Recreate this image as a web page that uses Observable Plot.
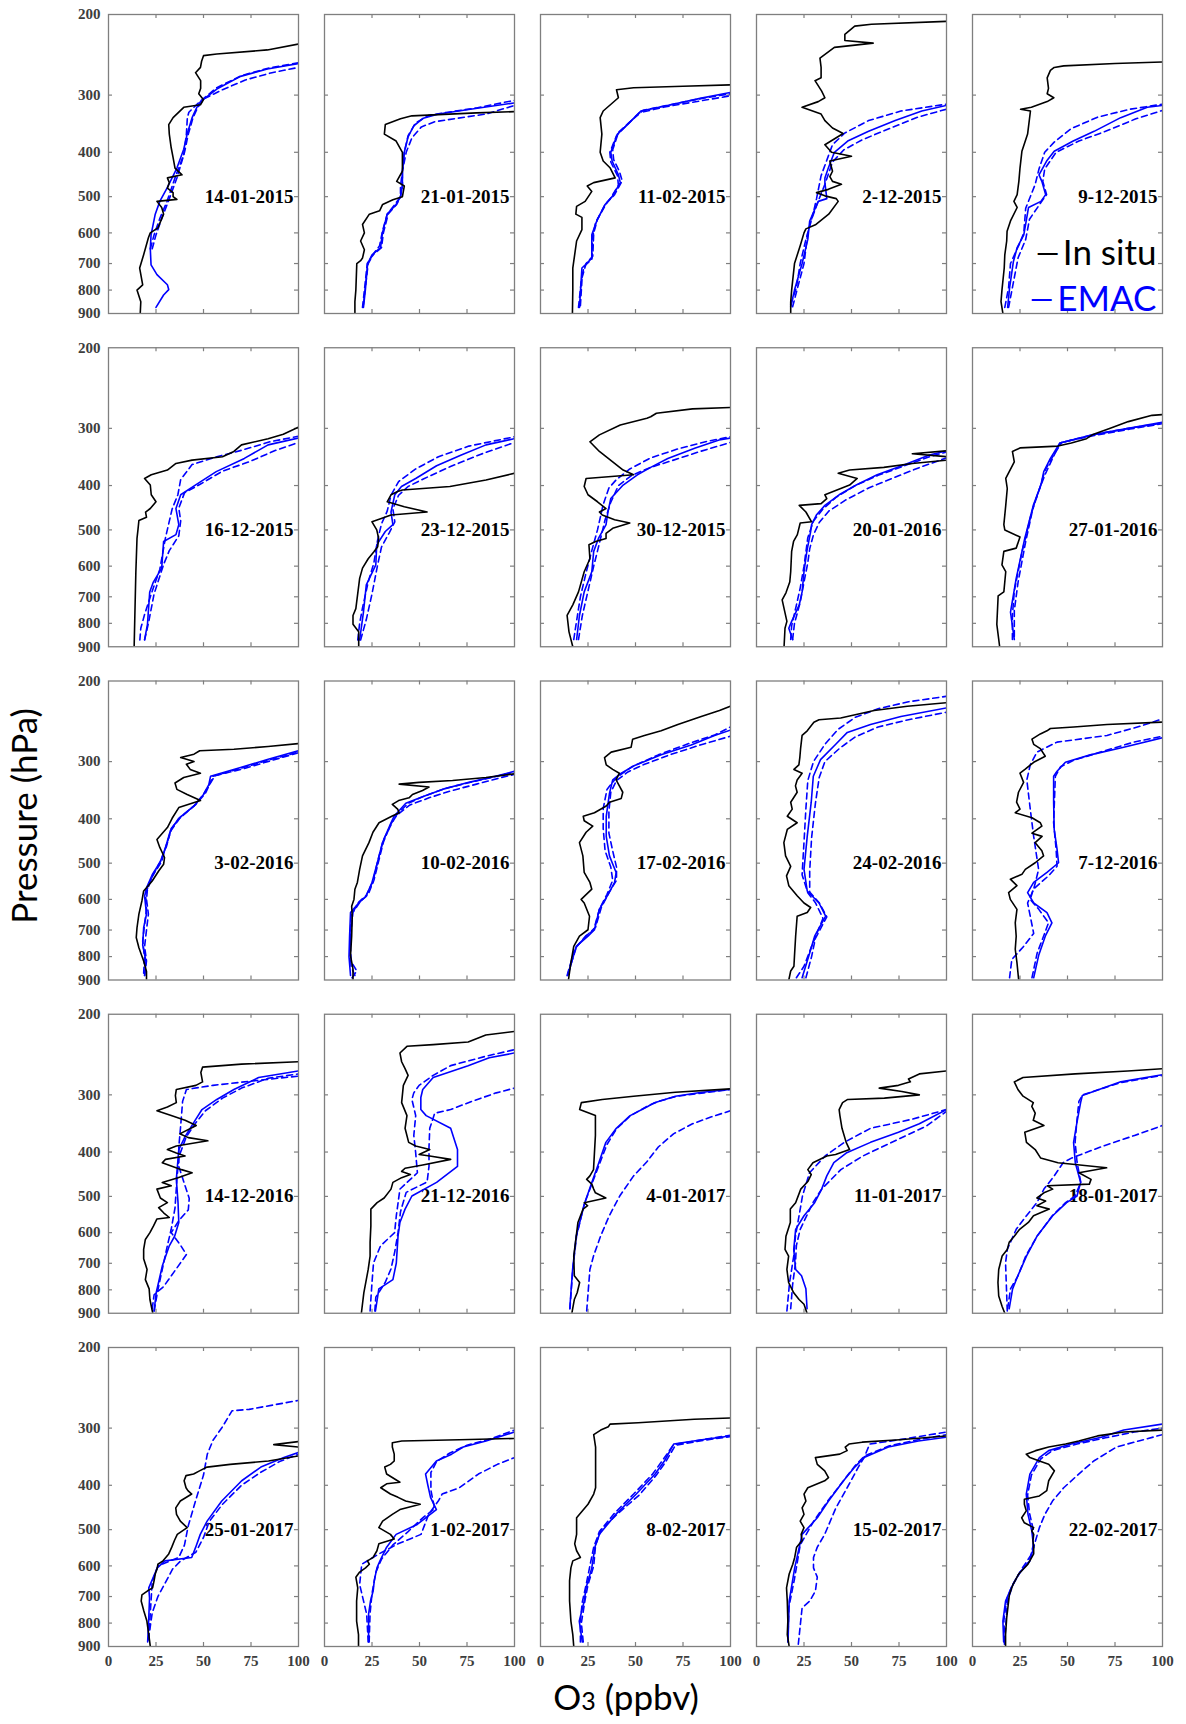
<!DOCTYPE html>
<html>
<head>
<meta charset="utf-8">
<script src="https://cdn.jsdelivr.net/npm/d3@7"></script>
<script src="https://cdn.jsdelivr.net/npm/@observablehq/plot@0.6"></script>
<style>
  html, body { margin: 0; padding: 0; background: #fff; }
  #chart svg { display: block; }
</style>
</head>
<body>
<div id="chart"></div>
<script>
// Ozone soundings (in situ) versus EMAC model profiles, one panel per launch date.
// Each profile is a list of [ozone (ppbv), pressure (hPa)] pairs from the surface upward.

const dates = [
  "14-01-2015", "21-01-2015", "11-02-2015", "2-12-2015", "9-12-2015",
  "16-12-2015", "23-12-2015", "30-12-2015", "20-01-2016", "27-01-2016",
  "3-02-2016", "10-02-2016", "17-02-2016", "24-02-2016", "7-12-2016",
  "14-12-2016", "21-12-2016", "4-01-2017", "11-01-2017", "18-01-2017",
  "25-01-2017", "1-02-2017", "8-02-2017", "15-02-2017", "22-02-2017"
];

const pressureTicks = [200, 300, 400, 500, 600, 700, 800, 900];
const innerPressureTicks = [300, 400, 500, 600, 700, 800];
const ozoneTicks = [0, 25, 50, 75, 100];
const innerOzoneTicks = [25, 50, 75];

const legendLabels = ["In situ", "EMAC"];

const inSitu = [
  [[16.7,900],[17,848],[15,800],[18,779],[16.4,716],[18.5,670],[21,615],[22,600],[26,585],[29,546],[28,528],[25.5,512],[36,507],[34,500],[34,490],[31,479],[32,466],[31,455],[38.7,448],[35,433],[34,411],[33,391],[32,365],[31.7,348],[34,336],[39.6,319],[48.4,315],[50,307],[47.5,298],[48.5,290],[48.5,279],[45.8,268],[48.4,261],[49,253],[50,246],[57,244],[83.6,239],[100,232]],
  [[16,900],[16,848],[16.5,800],[17,700],[19,690],[20,681],[21,653],[19,625],[21,600],[20,575],[23.6,546],[29,537],[30.6,520],[36,508],[41,500],[42,474],[38,463],[41,440],[41,418],[41,400],[37.7,378],[31.5,365],[32,348],[40,338],[46,333],[60,331],[80,328],[100,326]],
  [[16.8,900],[17,800],[17,716],[19,625],[21.8,590],[21.8,555],[18.6,546],[19,525],[23.5,512],[27,487],[24.6,474],[28,466],[39.3,455],[36.7,433],[33,418],[31.4,400],[32.3,365],[31.4,336],[33,325],[41,304],[40,292],[49,289],[75,287],[100,285]],
  [[18,900],[18,850],[18.5,800],[20,700],[23,640],[25,600],[26,588],[31,576],[38,546],[43,512],[42,505],[36,498],[31.6,490],[37.8,482],[44.7,470],[40,463],[38.6,452],[40,440],[38.6,418],[50,408],[39.5,400],[36,385],[45.6,364],[40,354],[36,341],[34,330],[24,319],[32.5,310],[36,304],[34.3,294],[30.8,279],[34,275],[34,261],[33.4,249],[41,236],[61.4,231],[46.5,228],[46.5,221],[51.7,212],[60.5,210],[100,207]],
  [[16,900],[15,848],[15.5,800],[16.7,716],[17,670],[18,625],[18.2,595],[20,565],[23.5,528],[21.8,512],[23.5,495],[24.4,463],[25,433],[26,398],[29,365],[30.5,325],[25.3,322],[31,319],[39.3,310],[42.8,304],[39.3,298],[40,290],[39.3,275],[41,265],[43,261],[48,259],[75,256],[100,254]],
  [[13.5,900],[13.8,792],[14.4,617],[15,522],[15.5,500],[16,477],[20,469],[19.5,457],[22,449],[25,434],[22.5,419],[22,399],[19,386],[22.5,379],[31,370],[35.5,358],[44,352],[60,346],[66,337],[70,326],[84,316],[92,309],[100,298]],
  [[18,900],[18,835],[15,804],[15,769],[16.5,743],[18.5,638],[20,606],[23,578],[26,558],[28,544],[28.5,522],[27.5,500],[25,480],[29.5,473],[35,464],[54,457],[42,445],[33,434],[35,419],[38.5,412],[41,409],[66,402],[85,389],[100,376]],
  [[17,900],[15,835],[14,769],[17,729],[20,683],[23,617],[26,578],[25.5,539],[29,530],[34.5,522],[34.5,509],[38,496],[47,483],[39,475],[32.5,464],[31,457],[34.5,449],[30,434],[25,419],[23,402],[24,386],[49,379],[43.5,370],[38,355],[31,337],[26,321],[31,310],[42,295],[56,285],[58,283],[61,278],[80,272],[100,270]],
  [[14.5,900],[15,820],[16,792],[13.5,711],[15.5,686],[17.5,650],[18,617],[18.5,557],[19.5,530],[21.5,512],[23,483],[29,480],[26,457],[22.5,442],[34,438],[37,427],[36,419],[49,399],[53,386],[43,376],[49,370],[67,365],[82,358],[100,352],[115,349],[100,346],[82,341],[100,336],[125,332]],
  [[14.3,900],[12.8,804],[13.5,697],[16.5,683],[17.5,617],[15.5,596],[16.5,557],[23,548],[25,518],[17,500],[16.5,487],[17.5,442],[18.3,406],[17.5,386],[22,355],[21,337],[25,331],[45,328],[52,323],[60,316],[63,310],[72.5,300],[82,290],[94.5,281],[100,280]],
  [[20,900],[20,862],[18.5,818],[16,765],[14.6,727],[15,692],[16,646],[17.6,604],[18.5,575],[20,566],[23,547],[26.4,520],[29,503],[29.5,486],[27,462],[25.5,444],[28,432],[31,418],[33.5,399],[37,378],[48.4,365],[41.4,354],[36,345],[35,334],[39.6,325],[48.4,318],[43,312],[41,304],[45,300],[38,294],[45,289],[48,284],[66,282],[84,278],[100,274]],
  [[15,900],[15,852],[13.7,796],[14.3,722],[14.6,653],[14.3,621],[15.5,600],[16,570],[17.3,551],[18.5,516],[20,482],[23.4,451],[25.5,428],[28.7,408],[35.4,395],[39.3,388],[38.5,381],[35.7,372],[39,365],[44.5,360],[46.3,354],[51.6,347],[55,341],[39.3,336],[49.8,333],[67.4,330],[85,325],[100,319]],
  [[14.7,900],[16,825],[17.5,760],[20.5,722],[25,699],[25.8,653],[23,611],[21.4,600],[27,570],[26,551],[23,524],[22.3,482],[20.5,451],[24,428],[27.5,415],[23,404],[22.5,395],[28.4,388],[34.6,375],[36.3,368],[42.5,361],[43.3,350],[41.5,339],[39.8,329],[41.5,318],[38,312],[34.6,305],[33.7,294],[37.2,286],[47.7,279],[48.5,268],[54.7,263],[63.5,257],[72.3,249],[84.6,239],[94.2,232],[100,227]],
  [[17,900],[18,860],[19.7,840],[20,796],[20.6,722],[21.4,653],[26.7,641],[28.5,625],[25,611],[21.4,589],[17,560],[15.8,533],[18,508],[15.3,482],[14.4,451],[16.2,422],[21.4,408],[16.2,395],[18.8,381],[18,368],[21.4,350],[20.5,339],[21.4,329],[24,318],[19.7,312],[22.3,305],[22.8,294],[23.2,281],[24,263],[26.7,257],[30.2,246],[32.9,243],[44.3,241],[61.9,232],[79.4,227],[100,223]],
  [[24.3,900],[23.4,825],[22.5,771],[23,722],[22.5,675],[23.4,631],[19.9,600],[19,580],[23.4,560],[19.9,542],[26,529],[27.8,516],[33,499],[37.4,482],[36.5,470],[33,451],[36.6,437],[31.3,430],[36.5,415],[35.7,408],[31.3,398],[22.5,388],[25,381],[23.2,368],[24.2,350],[26.9,333],[25,318],[27.6,312],[32.2,301],[38.3,292],[35.7,281],[32.2,275],[31.3,268],[35.7,261],[39.2,257],[41,254],[53.3,252],[70.8,249],[100,246]],
  [[23.3,900],[21.8,840],[21.4,796],[19.4,760],[20.3,722],[18.5,684],[18.5,653],[19.4,621],[21.8,600],[23.7,580],[25.5,560],[32,556],[29,543],[26.4,529],[31,516],[27.3,504],[25.5,482],[33,474],[28.3,466],[36.6,455],[44,444],[38.4,437],[28.3,422],[30,415],[40.3,408],[35.7,402],[31,395],[35.7,388],[52.3,378],[42,372],[37.5,365],[46.2,350],[40.3,341],[33,333],[25.5,325],[31,319],[35.7,312],[35.2,301],[35.7,292],[46,286],[49.5,281],[48.6,268],[49.5,261],[70,257],[100,254]],
  [[19.4,900],[20.7,812],[23,722],[24,675],[24,630],[24.4,580],[24.4,533],[27.7,516],[31.4,504],[35,482],[36,466],[40.6,455],[45.2,448],[40.6,441],[42.4,434],[51.7,427],[66.4,415],[55.4,408],[49.8,405],[55.4,395],[48,388],[44.3,381],[42.4,355],[43.4,333],[40.6,312],[41.5,286],[44,272],[42.4,263],[40.6,254],[39.7,243],[43.4,235],[57.2,233],[75.6,230],[84.9,222],[100,218]],
  [[16.5,900],[17.8,840],[19.3,812],[20.6,771],[17.8,745],[17.5,675],[18.8,611],[19.7,570],[22.4,533],[24.8,524],[23,516],[34.4,504],[28.9,491],[28,482],[27,470],[24.3,459],[26,451],[27.9,437],[28.9,368],[28.9,333],[20.6,323],[21.5,312],[32.5,307],[49,302],[71,296],[100,291]],
  [[26.6,900],[25,860],[22.4,840],[19.6,812],[16.9,771],[16,722],[16.9,675],[15,653],[15.5,611],[17.8,570],[17.8,533],[20.6,516],[23.3,482],[27,464],[28.8,448],[27,437],[29.7,422],[37,408],[41.6,405],[49,395],[47.2,381],[45,355],[43.9,333],[43.5,323],[45.3,312],[48,307],[67.3,305],[85.7,300],[76.5,295],[64.6,290],[74.7,286],[81,281],[80,277],[85.7,270],[100,266]],
  [[17,900],[15.6,870],[13.8,825],[13.4,771],[13.8,722],[15.6,675],[18.3,653],[19.3,630],[22,611],[24.8,590],[29.4,570],[32.1,551],[40.4,533],[33.9,524],[38.5,512],[33.9,504],[37.6,491],[42.2,482],[39.4,474],[61.5,470],[62.4,459],[56,444],[70.6,433],[45,422],[35.8,412],[33,395],[28.4,381],[27.5,362],[37.6,350],[32,341],[33,329],[31.2,318],[32,312],[26.6,302],[23.9,292],[22,281],[26.6,275],[54,270],[81.7,266],[100,263]],
  [[22,900],[21.2,848],[20.2,792],[18.6,753],[17.2,716],[17.6,694],[20.6,680],[23.2,670],[24,646],[24.6,625],[25.7,606],[26,595],[28.7,585],[31.7,565],[33.3,546],[34.7,528],[36.2,512],[41.4,495],[37.8,479],[35.8,463],[35.4,448],[37.8,433],[43.8,418],[41.8,411],[40.8,405],[39.8,391],[40.8,381],[44.8,378],[47.9,372],[51.9,365],[64,360],[84.2,354],[100,345],[130,337],[100,330],[87,326],[100,321],[130,318]],
  [[17.9,900],[17.9,848],[16.9,792],[16.9,716],[17.5,670],[16.5,635],[18.5,619],[21.6,606],[23.6,595],[22.6,585],[25.6,575],[27.6,556],[28.6,537],[36.7,524],[34.7,512],[28.6,495],[30.6,479],[35.7,463],[39.7,452],[50.4,440],[42.7,433],[38.7,425],[34.7,418],[29.6,405],[32.7,397],[39.7,394],[32.7,378],[31.7,365],[34.7,360],[36.7,354],[36.7,342],[35.7,330],[35.7,323],[40.7,320],[71,318],[100,316]],
  [[17.5,900],[17,848],[16,792],[15.3,716],[15.3,646],[16,606],[17,585],[21,575],[19,556],[18,537],[19,512],[19,471],[22,455],[25,440],[28,418],[29,405],[29,365],[29,330],[28,310],[31.7,303],[35.7,298],[36.6,294],[51.4,292],[80.9,287],[100,285]],
  [[17.2,900],[16.2,848],[16.5,792],[16.2,716],[15.8,670],[17.2,625],[19.1,595],[20.1,575],[21.1,546],[24,528],[23.5,512],[25,495],[23,479],[25,463],[24,448],[26,433],[25,418],[27,405],[35.9,391],[37.9,385],[35.9,372],[32,360],[31,348],[43.8,342],[47.7,336],[46.7,330],[48.7,325],[55.6,322],[75.3,318],[100,312]],
  [[17.4,900],[17.4,848],[18,779],[19.4,694],[21.3,659],[24.3,625],[29.2,595],[32.2,565],[32.2,546],[31.8,528],[32.2,512],[31.2,503],[32.2,495],[27.3,483],[25.9,471],[28.3,455],[27.3,440],[27.3,429],[35.2,422],[39.1,411],[40.1,391],[43.1,372],[40.1,360],[35.2,354],[30.2,348],[28.3,342],[33.2,336],[40.1,330],[49,325],[55.9,320],[65.8,312],[79.6,306],[100,303]]
];

const emac = [
  [[25,873],[29,820],[31.7,798],[31,779],[25.5,740],[22.4,705],[22,650],[22.4,606],[24.6,546],[27,512],[30.8,479],[36,433],[39.6,394],[41.4,365],[44,336],[46.5,319],[48.4,310],[57,291],[69.5,273],[83.6,263],[100,256]],
  [[20.5,873],[21.5,800],[22.7,700],[25,670],[29.5,646],[30.5,600],[33,546],[37.7,520],[40,500],[41,474],[41,440],[42,400],[44,370],[47,350],[52,337],[60,330],[75,323],[100,312]],
  [[20.5,873],[21.8,716],[23.5,705],[27,681],[27,606],[29.6,565],[34,520],[37.7,500],[42,466],[41,448],[37.7,418],[37,400],[40.5,365],[45.8,348],[52.8,325],[66.8,316],[84,305],[100,296]],
  [[18,870],[20,800],[24,700],[27,620],[28,565],[32.5,512],[37,505],[36,466],[36,455],[37.8,433],[41,400],[48,378],[59,360],[73,341],[87,325],[100,316]],
  [[18.5,873],[19.5,792],[21.5,694],[23.5,646],[27,606],[29.5,528],[36,512],[38.5,495],[36.5,463],[35,448],[39,418],[43,398],[53,378],[64,360],[78,336],[92,319],[100,316]],
  [[19,868],[20.5,804],[21.7,683],[23.6,650],[28,606],[29,530],[35.5,512],[37,487],[35.5,449],[38,419],[45.7,399],[56.7,373],[71.5,349],[84,326],[100,315]],
  [[18.5,870],[20.5,756],[22,659],[27,596],[27.5,539],[32,504],[36,487],[35,457],[37,419],[40.5,402],[48,386],[59,362],[72,343],[85,326],[100,316]],
  [[19,868],[20.5,769],[23,683],[27,617],[28,557],[30.5,522],[34.5,487],[35.5,457],[37,427],[43.5,399],[51,379],[58,365],[67,349],[81.5,331],[94,318],[100,315]],
  [[19,868],[17,820],[18.5,792],[22.5,729],[24,683],[25,617],[26.5,557],[28.5,504],[29,487],[31.5,464],[36,442],[43.5,419],[52.5,399],[63.5,379],[76.5,362],[91,343],[100,336]],
  [[22,868],[20,756],[23,638],[27.5,522],[32,442],[36,399],[37.5,373],[41,349],[46,323],[63,310],[82,300],[100,291]],
  [[19,880],[19.7,818],[18,755],[18.5,692],[20,646],[19,590],[20,566],[23,530],[27.3,496],[30,462],[32.6,424],[37,399],[45,375],[50,354],[52.8,337],[53.7,323],[69.5,309],[83.6,297],[100,284]],
  [[13.7,880],[12.9,800],[13.2,722],[13.7,641],[18,611],[21.7,592],[25,551],[27.8,499],[30.5,451],[35,408],[36.6,395],[42.8,370],[51.6,358],[62,345],[76,333],[90,323],[100,315]],
  [[14.4,880],[18.8,760],[25,722],[28.4,699],[31,630],[35.4,587],[39,551],[39.8,524],[36.3,482],[34.6,437],[34.6,395],[36.3,352],[38,329],[42.5,318],[49.5,306],[63.5,290],[79.3,276],[91.6,263],[100,256]],
  [[24,890],[27.6,796],[30.6,722],[36.4,653],[32.9,611],[26.7,575],[25,516],[26.7,437],[28.8,368],[29.9,323],[33.7,297],[41.7,275],[47.8,259],[60,249],[76,239],[100,229]],
  [[32.2,890],[34.8,796],[38.3,722],[41.8,675],[39.2,641],[32.2,611],[29,580],[32.2,551],[39.2,524],[45.3,499],[44.5,466],[43,422],[42.7,368],[42.7,323],[44.5,315],[48.9,301],[62,290],[79.6,279],[100,266]],
  [[24,890],[25.1,812],[28.3,710],[32,641],[34.8,611],[37,570],[36.6,516],[35.7,459],[37,395],[40.3,370],[45,344],[49.2,323],[57,307],[66,292],[79,275],[100,266]],
  [[26.8,890],[28.6,796],[36,760],[37.8,699],[38.7,611],[39.7,570],[42.4,533],[46,499],[59,466],[70,430],[70,395],[66.4,355],[53.5,333],[50.7,323],[50.7,304],[51.7,292],[57.2,275],[75.6,259],[86.7,249],[100,243]],
  [[15.4,880],[16.9,722],[18.8,611],[23.3,516],[27,466],[30.7,422],[34.4,381],[39.9,355],[47.2,333],[56.4,318],[60,312],[71,302],[85,296],[100,292]],
  [[26.6,880],[26,796],[23.7,745],[20.6,722],[19.6,653],[20.6,590],[25,551],[30.6,516],[34.3,482],[37,451],[40.7,422],[47.2,402],[60,381],[74.7,362],[85.7,347],[100,323]],
  [[19.3,880],[21.1,796],[23.9,745],[28.4,675],[33.9,611],[42.2,551],[49.5,516],[55,499],[56.9,466],[54.1,422],[53.2,381],[55,344],[56.9,312],[57.8,301],[78,281],[100,271]],
  [[20.6,880],[21.2,779],[21.6,705],[21.2,670],[25.7,606],[29.7,585],[43.8,575],[45.9,546],[48.3,512],[51.9,479],[59.6,433],[70.1,391],[80.2,365],[92.3,348],[100,339]],
  [[23.2,880],[23.2,765],[24.2,716],[25.6,681],[26.2,646],[27.6,606],[29.2,585],[32.7,546],[37.7,512],[48.8,487],[58.9,452],[55.8,425],[54.4,400],[53.2,378],[58.9,354],[66.9,342],[73,330],[85,320],[100,306]],
  [[22,880],[20.4,792],[23,716],[24,670],[27,606],[28.6,546],[31,512],[39.6,463],[50.4,418],[60.3,378],[65.2,354],[70.1,325],[85,318],[100,312]],
  [[16.6,880],[17.2,716],[20.1,606],[24,512],[32,471],[37.9,433],[45.8,391],[51.7,365],[56.6,348],[69.4,330],[85.2,320],[100,314]],
  [[16.4,880],[16,792],[17.4,716],[20.4,670],[24.3,625],[30.2,585],[32.2,546],[31.2,503],[29.2,463],[28.3,418],[30.2,378],[35.2,348],[40.1,336],[51.9,325],[67.8,314],[79.6,303],[100,294]]
];

const emacDashA = [
  [[22,650],[24,606],[27,558],[30.8,512],[35,455],[39.6,405],[41,365],[41.5,336],[42.3,327],[48,310],[57,289],[70,272],[84,262],[100,255]],
  [[20,873],[21,800],[22.5,700],[25.5,670],[30,646],[31,600],[33.5,546],[38,520],[40,500],[41,474],[41,440],[42,400],[44,368],[48,345],[55,332],[65,327],[80,320],[100,308]],
  [[20,873],[21.5,760],[24,700],[27.5,675],[28,600],[30,560],[35,515],[39,495],[43,462],[41.5,440],[38.5,415],[38,395],[41,362],[46.5,345],[54,324],[68,315],[85,305],[100,298]],
  [[19,870],[22,780],[25,700],[27,600],[30,540],[31.6,505],[34,450],[40,385],[46.5,363],[59,341],[76,325],[100,314]],
  [[17,873],[19,790],[20,700],[25,630],[27,600],[28,530],[33,470],[35,435],[38,400],[43,380],[52,355],[66,335],[83,322],[100,314]],
  [[16.5,870],[17,820],[19,765],[22.5,690],[27,610],[30,520],[33.5,450],[36.5,419],[38,388],[44,360],[57,346],[70,335],[85,321],[100,312]],
  [[17.5,870],[18.5,800],[20,740],[23,650],[26,590],[28,525],[30,485],[33,455],[35,420],[39,392],[48,368],[60,346],[76,328],[100,313]],
  [[17.5,868],[19,790],[21,700],[24,620],[27,555],[30,500],[33,440],[36,405],[40,388],[47,368],[58,348],[72,333],[88,320],[100,313]],
  [[18,868],[18.5,810],[21,730],[23,670],[25,600],[27,520],[30,478],[35,450],[42,424],[52,400],[64,380],[78,362],[92,345],[100,338]],
  [[21,868],[21,770],[22,680],[26,560],[31,460],[35,410],[38,380],[42,350],[46,323],[63,310],[82,300],[100,292]],
  [[19,880],[20,818],[19,760],[20,700],[21,646],[20,600],[20.5,570],[23.5,530],[28,496],[30,462],[33,424],[37.5,399],[45,375],[50,354],[53,337],[55,323],[70,310],[84,298],[100,286]],
  [[16,880],[14,840],[13.5,780],[14,700],[15,640],[19,605],[23,585],[26,545],[28.5,495],[31,450],[35,410],[38,392],[44,370],[53,356],[64,343],[78,332],[92,322],[100,316]],
  [[14,880],[18,770],[24,720],[28,700],[31,630],[35,585],[38,545],[37,510],[34,470],[33,420],[33,380],[35,345],[40,325],[48,308],[62,290],[78,274],[92,262],[100,252]],
  [[21,890],[25,840],[29,760],[35,660],[31,610],[27,580],[24,530],[25,450],[26,380],[27,330],[30,300],[36,275],[43,255],[52,240],[64,230],[80,222],[100,216]],
  [[19.5,890],[20.7,812],[26.9,760],[32.2,712],[30.4,653],[29,611],[32.2,570],[34.8,516],[32.2,437],[30.4,381],[28.6,329],[30.4,305],[33.9,286],[44.5,272],[70.8,263],[88.4,251],[100,242]],
  [[23,880],[24,820],[29,787],[41,670],[38,640],[33,600],[37,565],[42,535],[42.5,505],[40,470],[37,430],[37,390],[38,350],[39,310],[41,292],[55,286],[75,280],[100,273]],
  [[24,890],[25,771],[25.8,699],[29.5,641],[36.9,600],[37.8,551],[39.7,482],[48.9,444],[48,402],[47,368],[48,333],[46,307],[47,297],[49.8,286],[57.2,272],[66.4,259],[84.9,247],[100,239]],
  [[15.5,880],[17,720],[19,610],[23,520],[27,470],[31,425],[35,385],[40,356],[47,334],[56,318],[62,310],[72,302],[86,297],[100,292]],
  [[16,890],[17.4,771],[19.6,675],[20.5,611],[22.4,551],[24.2,499],[27.9,444],[36.1,408],[46.2,381],[60,355],[82,339],[100,323]],
  [[18.5,880],[20,796],[24,745],[28,675],[34,611],[42,551],[49,516],[54,499],[57,466],[55,420],[54,380],[55,340],[56,310],[58,300],[78,282],[100,272]],
  [[21.2,870],[22,760],[23,650],[26,600],[37,575],[40,540],[42,490],[46,430],[50,380],[52,342],[55,319],[60,298],[65,275],[74,273],[100,261]],
  [[23.5,880],[24,760],[25,690],[27,620],[30,580],[36,540],[44,505],[52,470],[58,450],[57,430],[56,410],[56,375],[59,355],[66,340],[75,327],[87,317],[100,303]],
  [[21,880],[21,790],[22,720],[24,660],[26,600],[28,546],[31,505],[39,460],[49,418],[59,378],[64,354],[70,326],[85,318],[100,311]],
  [[16.5,880],[17,740],[20,640],[23,540],[30,480],[38,430],[46,390],[52,362],[57,345],[70,328],[85,318],[100,310]],
  [[17,880],[16.5,790],[18,710],[21,660],[25,620],[30,585],[32,540],[32,500],[30,460],[29,420],[31,380],[36,350],[42,336],[55,325],[70,315],[85,306],[100,300]]
];

const emacDashB = [
  [[23,650],[25,606],[28,558],[31.5,512],[36,455],[40,400],[42,365],[44.5,336],[47,319],[50,306],[60,292],[72,278],[86,268],[100,261]],
  [[20.5,860],[21.5,790],[23,700],[26,665],[29,640],[30.5,595],[33,546],[37,520],[40,500],[40,474],[41,440],[43,400],[46,372],[51,352],[58,343],[70,337],[85,330],[100,316]],
  [[21,865],[22,740],[23,710],[27,685],[27.5,610],[29,570],[33.5,525],[37,503],[41,472],[40.5,450],[37,420],[36.5,400],[40,368],[45,350],[52,328],[66,318],[86,308],[100,301]],
  [[18,860],[21,790],[23,700],[26,620],[29,560],[33,505],[36,470],[40,420],[46,395],[56,375],[70,355],[85,335],[100,322]],
  [[19,873],[21,790],[24,680],[28,620],[30,560],[36,515],[39,495],[37,463],[38,435],[44,400],[56,378],[70,360],[86,338],[100,324]],
  [[19,870],[21,800],[24,690],[29,595],[32,555],[37,515],[38,478],[37,448],[40,415],[48,398],[60,372],[74,355],[88,335],[100,322]],
  [[19,870],[22,785],[25,690],[28,595],[30,545],[34,508],[37,480],[36,450],[39,420],[44,402],[52,387],[66,364],[82,342],[100,322]],
  [[20,868],[22,770],[25,680],[28,600],[31,535],[34,475],[37,435],[41,400],[48,380],[58,365],[70,352],[84,337],[100,322]],
  [[19,868],[20,800],[23,720],[25,650],[27,590],[28,550],[30,512],[33,482],[38,455],[47,430],[59,405],[72,385],[86,365],[100,348]],
  [[22,855],[22,750],[24,650],[28,530],[32,445],[36,398],[38,372],[42,347],[47,322],[64,311],[83,301],[100,293]],
  [[18.5,870],[19,800],[18,740],[19,680],[20,630],[19.5,585],[21,560],[24,525],[27.5,494],[30.5,460],[33,420],[38,396],[46,372],[51,352],[53.5,335],[56,322],[71,311],[85,299],[100,287]],
  [[14.5,890],[17,860],[14,820],[13.5,740],[14,650],[18,608],[22,588],[25.5,548],[28,495],[31,445],[36,405],[38,393],[45,373],[55,360],[66,348],[80,336],[93,325],[100,320]],
  [[14.5,870],[19,760],[25,715],[29,690],[32,625],[36,580],[40,545],[40,510],[38,470],[36,430],[36,385],[37,350],[40,330],[46,316],[54,305],[68,290],[84,276],[100,264]],
  [[26,890],[29,800],[31,730],[37,655],[33,610],[28,578],[28,520],[29,440],[31,370],[33,325],[36,300],[44,280],[52,265],[64,252],[80,243],[100,234]],
  [[31.3,890],[34,787],[37.4,722],[40,675],[34.8,630],[30.4,600],[32,570],[40,533],[44.5,508],[44,466],[42.7,408],[43.6,323],[46.3,308],[53.3,298],[67.3,286],[84.9,272],[100,264]],
  [[24,890],[26,800],[29,700],[31,640],[33,590],[35,530],[36,460],[37,410],[41,370],[46,345],[51,325],[60,305],[70,290],[84,276],[100,270]],
  [[26.5,890],[27,830],[32,770],[35,720],[37,660],[38.7,600],[40,540],[43,490],[54,465],[55,430],[55,390],[55.4,355],[58,329],[66.4,323],[77.5,310],[90.4,297],[100,290]],
  [[24.3,890],[26,722],[27.9,675],[31.6,611],[36.2,551],[41.7,499],[49,451],[56,420],[62,390],[70,365],[80,347],[90,335],[100,325]],
  [[18,880],[19,780],[20.5,700],[21,640],[23,590],[29.7,516],[34.3,482],[44.4,437],[56,408],[74.7,375],[89.4,351],[100,326]],
  [[18.3,890],[17.4,699],[18.3,653],[23,590],[28.4,551],[33.9,516],[37.6,482],[43,451],[47.7,422],[52.3,412],[68.8,388],[85.3,368],[100,350]],
  [[21,870],[23,760],[26,700],[33.7,610],[38,585],[46,560],[50,520],[53,480],[60,440],[70,400],[80,375],[90,355],[100,342]],
  [[23,880],[22.2,765],[18.5,659],[19.6,595],[28.6,565],[38.7,537],[50.8,512],[54.8,463],[59.9,433],[61.9,418],[71,405],[81,378],[91,360],[100,348]],
  [[22.5,880],[21.5,800],[23.5,710],[25,660],[28,600],[29,540],[32,500],[41,460],[52,420],[61,380],[66,355],[71,327],[86,319],[100,313]],
  [[22,890],[24,741],[28,716],[31,681],[32,635],[30,606],[30,575],[32,546],[35.9,512],[41.8,448],[47.7,405],[53.6,365],[56.6,348],[59.6,325],[75.3,318],[100,306]],
  [[16.8,890],[18.4,716],[21.3,659],[26.3,606],[31.2,565],[33.2,528],[35.2,495],[38.1,463],[42.1,433],[48,405],[55.9,378],[63.8,354],[75.7,330],[87.5,320],[100,310]]
];

// ---- layout and styling ----
const COLS = 5;
const serif = "'Liberation Serif', 'Times New Roman', serif";
const sans = "Lato, 'Open Sans', sans-serif";
const frameColor = "#7f7f7f";
const labelColor = "#3d3d3d";
const blue = "#0000ff";

const panelOf = i => ({panel: i, col: i % COLS, row: Math.floor(i / COLS)});
const toRows = profiles => profiles.flatMap((pts, i) =>
  pts.map(([o3, p]) => ({...panelOf(i), o3, p})));

const inSituRows = toRows(inSitu);
const emacRows = toRows(emac);
const dashARows = toRows(emacDashA);
const dashBRows = toRows(emacDashB);
const dateRows = dates.map((date, i) => ({...panelOf(i), date}));
const legendPanel = panelOf(COLS - 1);

// A legend entry: a short stroke sample followed by its label, right-aligned in the panel
const legendEntry = (k, color, dy, dashDx) => [
  Plot.text([{...legendPanel, label: legendLabels[k]}], {
    fx: "col", fy: "row", frameAnchor: "top-right", text: "label",
    dx: -6, dy, textAnchor: "end", fill: color, fontSize: 35, fontFamily: sans
  }),
  Plot.text([{...legendPanel, label: "—"}], {
    fx: "col", fy: "row", frameAnchor: "top-right", text: "label",
    dx: dashDx, dy: dy + 1, textAnchor: "end", fill: color, fontSize: 30, fontFamily: sans
  })
];

const lineOpts = {x: "o3", y: "p", fx: "col", fy: "row", z: "panel", clip: true,
  strokeWidth: 1.6, strokeLinejoin: "round", strokeLinecap: "round"};

const chart = Plot.plot({
  width: 1186,
  height: 1724,
  marginLeft: 108,
  marginRight: 24,
  marginTop: 14,
  marginBottom: 78,
  style: {background: "#fff", overflow: "visible"},
  x: {domain: [0, 100]},
  y: {type: "log", domain: [200, 900], reverse: true},
  fx: {axis: null, paddingInner: 26 / 216, paddingOuter: 0, round: false},
  fy: {axis: null, paddingInner: 34.25 / 333.25, paddingOuter: 0, round: false},
  marks: [
    // inward ticks on all four sides of every panel
    Plot.tickY(innerPressureTicks, {y: d => d, insetRight: 186, stroke: frameColor, strokeWidth: 1.2}),
    Plot.tickY(innerPressureTicks, {y: d => d, insetLeft: 186, stroke: frameColor, strokeWidth: 1.2}),
    Plot.tickX(innerOzoneTicks, {x: d => d, insetTop: 295, stroke: frameColor, strokeWidth: 1.2}),
    Plot.tickX(innerOzoneTicks, {x: d => d, insetBottom: 295, stroke: frameColor, strokeWidth: 1.2}),
    Plot.axisY({
      ticks: pressureTicks, tickFormat: d => `${d}`, tickSize: 0, tickPadding: 8,
      facetAnchor: "left", label: null,
      fontSize: 15, fontWeight: "bold", fontFamily: serif, color: labelColor
    }),
    Plot.axisX({
      ticks: ozoneTicks, tickFormat: d => `${d}`, tickSize: 0, tickPadding: 9,
      facetAnchor: "bottom", label: null,
      fontSize: 15, fontWeight: "bold", fontFamily: serif, color: labelColor
    }),
    // launch date, right-aligned at the 500 hPa level
    Plot.text(dateRows, {
      fx: "col", fy: "row", x: () => 100, y: () => 500, text: "date",
      textAnchor: "end", dx: -5, fontSize: 19, fontWeight: "bold", fontFamily: serif, fill: "#000"
    }),
    Plot.line(emacRows, {...lineOpts, stroke: blue}),
    Plot.line(dashARows, {...lineOpts, stroke: blue, strokeDasharray: "6,4"}),
    Plot.line(dashBRows, {...lineOpts, stroke: blue, strokeDasharray: "6,4"}),
    Plot.line(inSituRows, {...lineOpts, stroke: "#000"}),
    // legend inside the first-row, last-column panel
    legendEntry(0, "#000", 226, -103),
    legendEntry(1, blue, 272, -109),
    Plot.frame({stroke: frameColor, strokeWidth: 1.3})
  ]
});

// Shared axis titles for the whole grid
const svg = d3.select(chart);
svg.append("text")
  .attr("transform", "translate(37,816) rotate(-90)")
  .attr("text-anchor", "middle")
  .attr("font-family", sans)
  .attr("font-size", 35)
  .attr("fill", "#000")
  .text("Pressure (hPa)");

const xTitle = svg.append("text")
  .attr("x", 626)
  .attr("y", 1710)
  .attr("text-anchor", "middle")
  .attr("font-family", sans)
  .attr("font-size", 35)
  .attr("fill", "#000");
xTitle.append("tspan").text("O");
xTitle.append("tspan").attr("font-size", 25).text("3");
xTitle.append("tspan").text(" (ppbv)");

document.getElementById("chart").append(chart);
</script>
</body>
</html>
